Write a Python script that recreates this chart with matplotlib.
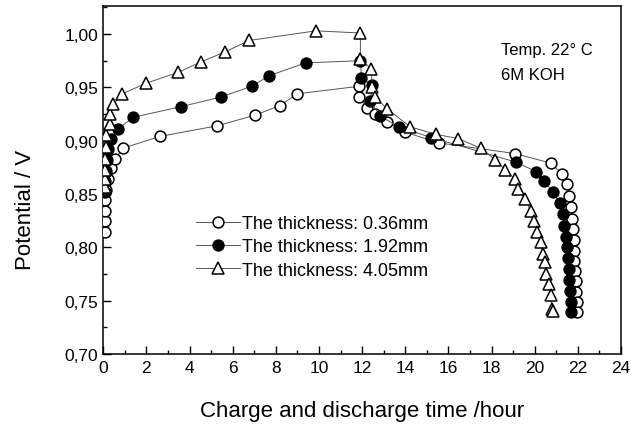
import matplotlib
matplotlib.use("Agg")
import matplotlib.pyplot as plt
from matplotlib.ticker import MultipleLocator, FuncFormatter

plt.rcParams['font.family'] = ['Liberation Sans', 'DejaVu Sans']

# Thickness 0.36 mm (open circles)
x_036 = [0.08, 0.08, 0.08, 0.10, 0.12, 0.23, 0.34, 0.54, 0.92, 2.62, 5.28, 7.05, 8.19, 9.0, 11.85,
         11.85, 12.23, 12.6, 13.15, 14.0, 15.54, 19.08, 20.74, 21.26, 21.5, 21.61, 21.69, 21.72,
         21.77, 21.8, 21.81, 21.84, 21.87, 21.9, 21.92, 21.94, 21.97]
y_036 = [0.814, 0.825, 0.834, 0.844, 0.854, 0.864, 0.874, 0.883, 0.893, 0.904, 0.914, 0.924, 0.933, 0.944, 0.951,
         0.941, 0.931, 0.925, 0.918, 0.908, 0.898, 0.888, 0.879, 0.869, 0.859, 0.848, 0.838, 0.827,
         0.817, 0.807, 0.797, 0.787, 0.778, 0.768, 0.758, 0.749, 0.739]

# Thickness 1.92 mm (filled circles)
x_192 = [0.08, 0.10, 0.12, 0.16, 0.22, 0.37, 0.68, 1.40, 3.62, 5.46, 6.88, 7.69, 9.38, 11.92,
         11.97, 12.46, 12.38, 12.85, 13.69, 15.2, 19.12, 20.07, 20.43, 20.84, 21.15, 21.3, 21.38,
         21.46, 21.5, 21.54, 21.57, 21.61, 21.64, 21.66, 21.69]
y_192 = [0.852, 0.862, 0.872, 0.882, 0.892, 0.902, 0.911, 0.922, 0.932, 0.941, 0.951, 0.961, 0.973, 0.975,
         0.959, 0.952, 0.937, 0.923, 0.913, 0.903, 0.880, 0.871, 0.862, 0.852, 0.842, 0.831, 0.820,
         0.810, 0.800, 0.790, 0.780, 0.769, 0.759, 0.749, 0.739]

# Thickness 4.05 mm (open triangles)
x_405 = [0.06, 0.06, 0.06, 0.07, 0.14, 0.14, 0.29, 0.33, 0.45, 0.88, 2.0, 3.46, 4.54, 5.62, 6.77, 9.85, 11.92,
         11.92, 12.43, 12.46, 12.6, 13.15, 14.23, 15.42, 16.46, 17.49, 18.18, 18.61, 19.08, 19.23,
         19.54, 19.84, 19.97, 20.12, 20.28, 20.38, 20.46, 20.54, 20.65, 20.74, 20.8, 20.85]
y_405 = [0.857, 0.864, 0.873, 0.883, 0.894, 0.905, 0.916, 0.925, 0.934, 0.944, 0.954, 0.964, 0.974, 0.983, 0.994, 1.003, 1.001,
         0.977, 0.967, 0.950, 0.941, 0.930, 0.913, 0.906, 0.902, 0.893, 0.882, 0.873, 0.864, 0.855,
         0.845, 0.834, 0.825, 0.814, 0.805, 0.794, 0.786, 0.775, 0.766, 0.755, 0.742, 0.740]

labels = ["The thickness: 0.36mm", "The thickness: 1.92mm", "The thickness: 4.05mm"]
notes = ["Temp. 22° C", "6M KOH"]

fig = plt.figure(figsize=(6.32, 4.31), dpi=100)
ax = fig.add_axes([0.1634, 0.1763, 0.8192, 0.8067])

lc = '#555555'
ms = 7.8
mew = 1.1
ax.plot(x_036, y_036, '-', color=lc, lw=0.7, marker='o', ms=ms, mfc='white', mec='black', mew=mew,
        label=labels[0], zorder=3)
ax.plot(x_192, y_192, '-', color=lc, lw=0.7, marker='o', ms=ms, mfc='black', mec='black', mew=mew,
        label=labels[1], zorder=3)
ax.plot(x_405, y_405, '-', color=lc, lw=0.7, marker='^', ms=ms + 0.8, mfc='white', mec='black', mew=mew,
        label=labels[2], zorder=3)

ax.set_xlim(0, 24)
ax.set_ylim(0.70, 1.026)
ax.xaxis.set_major_locator(MultipleLocator(2))
ax.xaxis.set_minor_locator(MultipleLocator(1))
ax.yaxis.set_major_locator(MultipleLocator(0.05))
ax.yaxis.set_minor_locator(MultipleLocator(0.025))
ax.yaxis.set_major_formatter(FuncFormatter(lambda v, p: f"{v:.2f}".replace('.', ',')))
ax.tick_params(which='both', direction='in', top=False, right=False, labelsize=12.5, width=1)
ax.tick_params(which='major', length=6)
ax.tick_params(which='minor', length=3)
ax.tick_params(axis='x', pad=4)
for s in ax.spines.values():
    s.set_linewidth(1.1)

ax.set_xlabel("Charge and discharge time /hour", fontsize=16, labelpad=18)
ax.set_ylabel("Potential / V", fontsize=16)
ax.yaxis.set_label_coords(-0.13, 0.417)

ax.text(18.45, 0.981, notes[0], fontsize=12, va='baseline', ha='left')
ax.text(18.45, 0.958, notes[1], fontsize=12, va='baseline', ha='left')

ax.legend(loc='upper left', bbox_to_anchor=(0.18, 0.40), frameon=False, fontsize=13,
          handlelength=2.4, handletextpad=0.1, labelspacing=0.35, borderpad=0, borderaxespad=0)

fig.savefig("out.png", dpi=100)
